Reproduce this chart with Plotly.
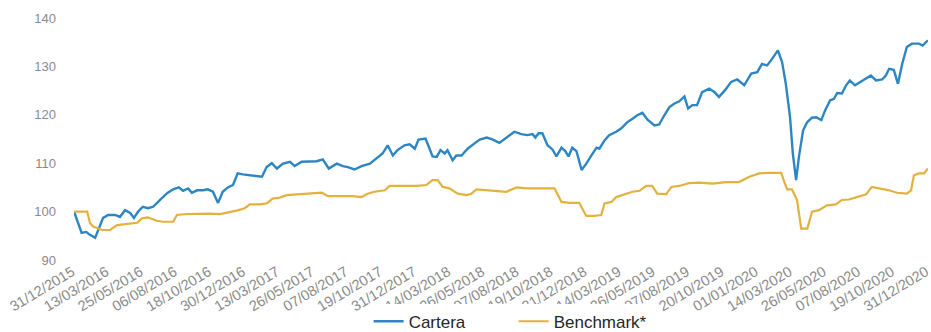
import plotly.graph_objects as go
import pandas as pd

# Days since 31/12/2015 and index values (base 100)
cartera_day = [0, 16, 26, 34, 45, 53, 62, 73, 88, 98, 109, 120, 128, 137, 147, 158, 169, 184, 199, 212,
               224, 233, 244, 252, 263, 276, 286, 297, 308, 318, 329, 340, 350, 361, 376, 391, 402, 412, 423, 434,
               447, 462, 472, 487, 504, 519, 532, 545, 562, 575, 586, 600, 615, 633, 647, 660, 671, 682, 692, 707,
               718, 729, 737, 752, 759, 767, 776, 784, 793, 799, 810, 818, 829, 842, 857, 868, 883, 895, 910, 925,
               942, 957, 970, 981, 987, 994, 1002, 1013, 1024, 1032, 1043, 1051, 1058, 1066, 1075, 1086, 1096, 1107, 1118, 1124,
               1135, 1145, 1160, 1171, 1184, 1195, 1205, 1216, 1227, 1242, 1252, 1263, 1274, 1284, 1295, 1306, 1314, 1323, 1333, 1344,
               1359, 1370, 1380, 1393, 1406, 1419, 1434, 1449, 1462, 1472, 1483, 1494, 1506, 1515, 1523, 1532, 1538, 1545, 1551, 1560,
               1569, 1579, 1588, 1599, 1607, 1618, 1626, 1633, 1643, 1652, 1660, 1671, 1684, 1695, 1705, 1716, 1729, 1737, 1744, 1754,
               1763, 1772, 1782, 1793, 1808, 1816, 1827]
cartera_val = [100, 95.6, 95.8, 95.2, 94.6, 96.6, 98.7, 99.3, 99.3, 98.9, 100.3, 99.7, 98.7, 100, 101, 100.7, 101, 102.4, 103.8, 104.6,
               105, 104.3, 104.8, 103.9, 104.4, 104.4, 104.6, 104.1, 101.8, 104.1, 105, 105.5, 107.9, 107.7, 107.5, 107.3, 107.2, 109.2, 110, 108.9,
               109.9, 110.3, 109.4, 110.3, 110.3, 110.4, 110.8, 108.9, 109.9, 109.4, 109.2, 108.7, 109.4, 109.9, 111, 112, 113.7, 111.6, 112.7, 113.7,
               113.9, 113, 114.9, 115.1, 113.4, 111.4, 111.3, 112.7, 112, 112.7, 110.6, 111.6, 111.6, 113, 114.1, 114.9, 115.3, 114.9, 114.2, 115.3,
               116.5, 116, 115.8, 116, 115.3, 116.2, 116.2, 113.7, 112.8, 111.4, 113.2, 112.5, 111.4, 113.2, 112.5, 108.6, 109.9, 111.6, 113.2, 113,
               114.7, 115.8, 116.5, 117.2, 118.5, 119.2, 119.9, 120.4, 119, 117.8, 118, 119.9, 121.6, 122.3, 122.8, 123.8, 121.3, 122, 122, 124.7,
               125.4, 124.7, 123.7, 125.1, 126.8, 127.3, 126.1, 128.5, 128.8, 130.5, 130.2, 131.6, 133.3, 130.9, 126.4, 119.5, 112, 106.5, 111.3, 116.8,
               118.5, 119.4, 119.5, 118.9, 120.9, 123, 123.3, 124.5, 124.4, 126.1, 127.1, 126.1, 126.8, 127.5, 128.1, 127.1, 127.3, 128.1, 129.5, 129.3,
               126.4, 130.5, 134, 134.7, 134.7, 134.3, 135.4]

bench_day = [0, 28, 34, 41, 60, 77, 92, 113, 135, 145, 158, 177, 190, 212, 220, 241, 269, 291, 312, 329,
             348, 365, 376, 397, 412, 425, 440, 455, 483, 511, 530, 543, 568, 596, 615, 628, 643, 665, 675, 703,
             733, 754, 767, 778, 789, 803, 821, 840, 850, 861, 883, 895, 925, 947, 968, 996, 1028, 1043, 1060, 1081,
             1096, 1113, 1128, 1135, 1150, 1160, 1173, 1195, 1210, 1224, 1237, 1248, 1267, 1278, 1295, 1316, 1338, 1366, 1395, 1423,
             1445, 1466, 1487, 1513, 1521, 1526, 1536, 1547, 1556, 1569, 1579, 1594, 1611, 1630, 1643, 1658, 1675, 1695, 1707, 1727,
             1744, 1761, 1782, 1791, 1797, 1808, 1819, 1827]
bench_val = [100, 100, 97.6, 96.9, 96.2, 96.2, 97.2, 97.4, 97.7, 98.6, 98.8, 98.1, 97.9, 97.9, 99.3, 99.5, 99.6, 99.6, 99.5, 99.8,
             100.2, 100.7, 101.5, 101.5, 101.7, 102.7, 102.9, 103.4, 103.6, 103.7, 103.9, 103.2, 103.2, 103.2, 103, 103.7, 104.1, 104.4, 105.3, 105.3,
             105.3, 105.5, 106.5, 106.5, 105.1, 104.8, 103.7, 103.4, 103.7, 104.6, 104.4, 104.4, 104.1, 105, 104.8, 104.8, 104.8, 102, 101.8, 101.8,
             99.1, 99.1, 99.3, 101.7, 102, 103, 103.4, 104.1, 104.3, 105.3, 105.3, 103.7, 103.6, 105.1, 105.3, 105.9, 106, 105.8, 106.1, 106.1,
             107.2, 107.9, 108, 108, 105.8, 104.6, 104.6, 102.4, 96.5, 96.5, 100, 100.3, 101.3, 101.5, 102.4, 102.5, 103, 103.6, 105.1, 104.8,
             104.4, 103.9, 103.7, 104.4, 107.5, 107.9, 107.9, 108.9]

tick_labels = ["31/12/2015", "13/03/2016", "25/05/2016", "06/08/2016", "18/10/2016", "30/12/2016",
               "13/03/2017", "26/05/2017", "07/08/2017", "19/10/2017", "31/12/2017", "14/03/2018",
               "26/05/2018", "07/08/2018", "19/10/2018", "31/12/2018", "14/03/2019", "26/05/2019",
               "07/08/2019", "20/10/2019", "01/01/2020", "14/03/2020", "26/05/2020", "07/08/2020",
               "19/10/2020", "31/12/2020"]

start = pd.Timestamp("2015-12-31")
cartera_x = start + pd.to_timedelta(cartera_day, unit="D")
bench_x = start + pd.to_timedelta(bench_day, unit="D")
tick_vals = pd.to_datetime(tick_labels, format="%d/%m/%Y")

fig = go.Figure()
fig.add_trace(go.Scatter(x=cartera_x, y=cartera_val, mode="lines", name="Cartera",
                         line=dict(color="#2C86C4", width=2.4)))
fig.add_trace(go.Scatter(x=bench_x, y=bench_val, mode="lines", name="Benchmark*",
                         line=dict(color="#E3B13E", width=2.2)))

fig.update_layout(
    width=931, height=332,
    margin=dict(l=74, r=3, t=18, b=72, autoexpand=False),
    paper_bgcolor="white", plot_bgcolor="white",
    font=dict(family="Liberation Sans, Arial, sans-serif"),
    showlegend=True,
    legend=dict(orientation="h", x=0.345, xanchor="left", y=-0.255, yanchor="middle",
                font=dict(size=17, color="#262626"), itemwidth=30, tracegroupgap=0,
                entrywidth=100, entrywidthmode="pixels"),
    xaxis=dict(type="date",
               range=[tick_vals[0] - pd.Timedelta(hours=6), tick_vals[-1] + pd.Timedelta(hours=6)],
               tickmode="array", tickvals=tick_vals, ticktext=tick_labels,
               tickangle=-31, showgrid=False, zeroline=False, showline=False, automargin=False,
               ticklabeloverflow="allow", ticklabelshift=-2,
               ticks="", tickfont=dict(size=14.5, color="#8a8a8a")),
    yaxis=dict(range=[90, 140], dtick=10, showgrid=False, zeroline=False, showline=False, automargin=False,
               ticks="", ticklabelstandoff=17, tickfont=dict(size=13, color="#8a8a8a")),
)

fig.write_html("out.html", post_script="document.body.style.margin='0';",
               config={"displayModeBar": False})
